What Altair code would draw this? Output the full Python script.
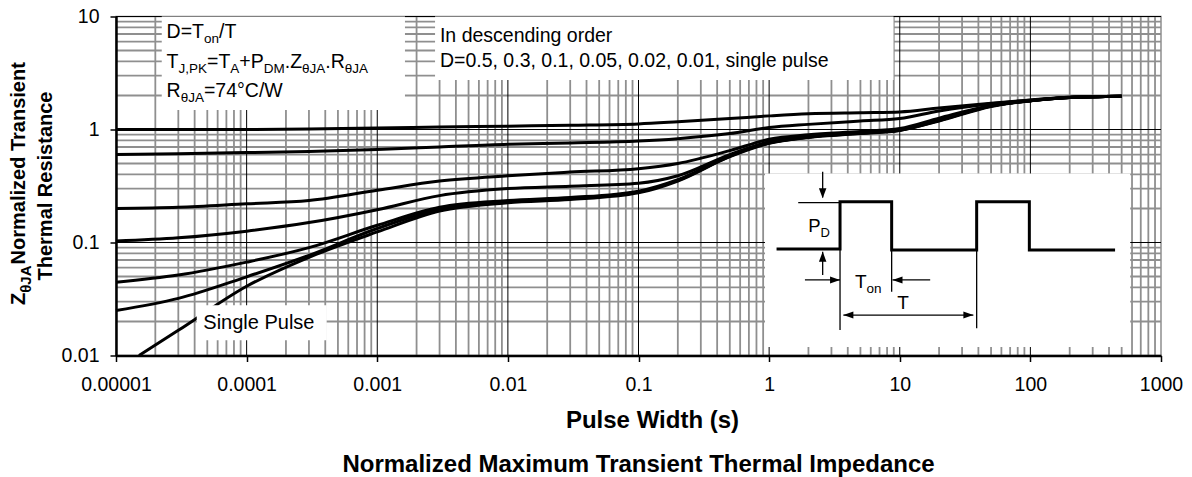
import altair as alt
import pandas as pd

FONT = "Liberation Sans"

# ---------------- data ----------------
pulse_width = [1e-5, 3e-5, 1e-4, 3e-4, 1e-3, 3e-3, 1e-2, 3e-2, 0.1, 0.2, 0.5, 1, 2, 5, 10, 20, 50, 100, 200, 500]
z_d050 = [1.00, 1.00, 1.00, 1.01, 1.03, 1.05, 1.07, 1.09, 1.12, 1.17, 1.25, 1.32, 1.38, 1.41, 1.43, 1.55, 1.71, 1.82, 1.93, 1.97]
z_d030 = [0.60, 0.61, 0.625, 0.64, 0.665, 0.70, 0.74, 0.76, 0.79, 0.83, 0.92, 1.04, 1.11, 1.19, 1.25, 1.46, 1.69, 1.82, 1.93, 1.97]
z_d010 = [0.20, 0.205, 0.22, 0.235, 0.29, 0.35, 0.39, 0.42, 0.45, 0.50, 0.65, 0.82, 0.90, 0.96, 1.02, 1.26, 1.63, 1.80, 1.92, 1.97]
z_d005 = [0.103, 0.11, 0.126, 0.15, 0.195, 0.26, 0.30, 0.315, 0.335, 0.39, 0.60, 0.78, 0.87, 0.94, 1.00, 1.22, 1.62, 1.80, 1.92, 1.97]
z_d002 = [0.0445, 0.0515, 0.067, 0.09, 0.142, 0.205, 0.235, 0.25, 0.285, 0.36, 0.585, 0.765, 0.86, 0.93, 0.99, 1.21, 1.61, 1.80, 1.92, 1.97]
z_d001 = [0.025, 0.032, 0.0497, 0.077, 0.133, 0.197, 0.23, 0.245, 0.28, 0.355, 0.58, 0.76, 0.855, 0.925, 0.985, 1.20, 1.61, 1.80, 1.92, 1.97]
single_width = [1.5e-5, 3e-5, 1e-4, 3e-4, 1e-3, 3e-3, 1e-2, 3e-2, 0.1, 0.2, 0.5, 1, 2, 5, 10, 20, 50, 100, 200, 500]
z_single = [0.0100, 0.0167, 0.041, 0.074, 0.124, 0.19, 0.225, 0.24, 0.275, 0.35, 0.575, 0.755, 0.85, 0.92, 0.98, 1.19, 1.60, 1.80, 1.92, 1.97]

x_ticks = [1e-5, 1e-4, 1e-3, 1e-2, 0.1, 1, 10, 100, 1000]
x_tick_labels = ["0.00001", "0.0001", "0.001", "0.01", "0.1", "1", "10", "100", "1000"]
y_ticks = [0.01, 0.1, 1, 10]
y_tick_labels = ["0.01", "0.1", "1", "10"]

x_major_grid = [1e-4, 1e-3, 1e-2, 0.1, 1, 10, 100]
y_major_grid = [0.1, 1, 10]
x_minor_grid = [m * 10.0 ** e for e in range(-5, 3) for m in range(2, 10)]
y_minor_grid = [m * 10.0 ** e for e in range(-2, 1) for m in range(2, 10)]

# annotation boxes (data coordinates)
boxes_back = {
    "x": [2.24e-5, 2.77e-3, 0.93],
    "x2": [1.63e-3, 8.96, 581],
    "y": [1.49, 2.74, 0.0119],
    "y2": [10, 10, 0.408],
}
single_box = {"x": [4.15e-5], "x2": [4.1e-4], "y": [0.01365], "y2": [0.0279]}

# inset pulse diagram (data coordinates)
wave_x = [1.14, 3.49, 3.49, 8.67, 8.67, 38.8, 38.8, 98.2, 98.2, 445]
wave_y = [0.0875, 0.0875, 0.2296, 0.2296, 0.0859, 0.0859, 0.2296, 0.2296, 0.0859, 0.0859]
thin_x = [3.49, 8.67, 38.8, 1.67, 2.57, 2.57, 1.88, 8.8, 3.70]
thin_x2 = [3.49, 8.67, 38.8, 3.49, 2.57, 2.57, 3.49, 17.1, 36.6]
thin_y = [0.0875, 0.0859, 0.0859, 0.225, 0.4236, 0.0515, 0.0466, 0.0466, 0.0228]
thin_y2 = [0.01683, 0.0367, 0.01742, 0.225, 0.25, 0.083, 0.0466, 0.0466, 0.0228]
arrow_x = [2.57, 2.57, 3.49, 8.8, 3.70, 36.6]
arrow_y = [0.246, 0.083, 0.0466, 0.0466, 0.0228, 0.0228]
arrow_dir = ["down", "up", "right", "left", "left", "right"]

# ---------------- helpers ----------------
W_REG = {' ': 278, ',': 278, '.': 278, '/': 278, '=': 584, '+': 584, '°': 400,
         'A': 667, 'C': 722, 'D': 722, 'J': 500, 'K': 667, 'M': 833, 'P': 667,
         'R': 722, 'T': 611, 'W': 944, 'Z': 611, 'θ': 556, 'o': 556, 'n': 556}
for d in "0123456789":
    W_REG[d] = 556
W_BOLD = {' ': 278, 'Z': 611, 'θ': 611, 'J': 556, 'A': 722, 'N': 722, 'o': 611, 'r': 389,
          'm': 889, 'a': 556, 'l': 278, 'i': 278, 'z': 500, 'e': 556, 'd': 611, 'T': 611,
          's': 556, 'n': 611, 't': 333, 'h': 611, 'R': 722, 'c': 556}


def tw(s, size, bold=False):
    tab = W_BOLD if bold else W_REG
    return sum(tab.get(c, 556) for c in s) * size / 1000.0


xs = alt.Scale(type="log", domain=[1e-5, 1000], nice=False)
ys = alt.Scale(type="log", domain=[0.01, 10], nice=False)

x_label_expr = "[" + ",".join(f"'{s}'" for s in x_tick_labels) + "][round(log(datum.value)/LN10)+5]"
y_label_expr = "[" + ",".join(f"'{s}'" for s in y_tick_labels) + "][round(log(datum.value)/LN10)+2]"

AXIS_X = alt.Axis(
    values=x_ticks, labelExpr=x_label_expr, grid=False, labelFont=FONT, labelFontSize=19.5,
    labelColor="black", labelPadding=14, labelOverlap=False, labelFlush=False,
    tickSize=6, tickColor="black", tickWidth=1.5, domainColor="black", domainWidth=2.5,
    title="Pulse Width (s)", titleFont=FONT, titleFontSize=24, titleFontWeight="bold",
    titleColor="black", titleX=536, titleY=72, titleBaseline="alphabetic", titleAlign="center",
    zindex=1)
AXIS_Y = alt.Axis(
    values=y_ticks, labelExpr=y_label_expr, grid=False, labelFont=FONT, labelFontSize=19.5,
    labelColor="black", labelPadding=11, labelOverlap=False, labelFlush=False,
    tickSize=6, tickColor="black", tickWidth=1.5, domainColor="black", domainWidth=2.5,
    title="", zindex=1)


def X(f="x"):
    return alt.X(f"{f}:Q", scale=xs, axis=AXIS_X)


def Y(f="y"):
    return alt.Y(f"{f}:Q", scale=ys, axis=AXIS_Y)


def data_text(xv, yv, text, size, dx=0, dy=0, align="left"):
    df = pd.DataFrame({"x": [xv], "y": [yv], "t": [text]})
    return alt.Chart(df).mark_text(align=align, baseline="alphabetic", dx=dx, dy=dy,
                                   fontSize=size, font=FONT, color="black").encode(
        x=X(), y=Y(), text="t:N")


def rich_text(xv, yv, segs, size, sub_size):
    layers = []
    off = 0.0
    for txt, sub in segs:
        s = sub_size if sub else size
        layers.append(data_text(xv, yv, txt, s, dx=off, dy=(5 if sub else 0)))
        off += tw(txt, s)
    return layers


def px_text(px, py, text, size, bold=False, angle=0, align="center", dx=0, dy=0):
    df = pd.DataFrame({"t": [text]})
    return alt.Chart(df).mark_text(align=align, baseline="alphabetic", fontSize=size, font=FONT,
                                   fontWeight="bold" if bold else "normal", color="black",
                                   angle=angle, dx=dx, dy=dy).encode(
        x=alt.value(px), y=alt.value(py), text="t:N")


# ---------------- layers ----------------
minor_x = alt.Chart(pd.DataFrame({"x": x_minor_grid})).mark_rule(color="#8f8f8f", strokeWidth=1.8).encode(x=X())
minor_y = alt.Chart(pd.DataFrame({"y": y_minor_grid})).mark_rule(color="#8f8f8f", strokeWidth=1.8).encode(y=Y())
major_x = alt.Chart(pd.DataFrame({"x": x_major_grid})).mark_rule(color="black", strokeWidth=1).encode(x=X())
major_y = alt.Chart(pd.DataFrame({"y": y_major_grid})).mark_rule(color="black", strokeWidth=1).encode(y=Y())

back_rects = alt.Chart(pd.DataFrame(boxes_back)).mark_rect(fill="white").encode(
    x=X(), x2="x2:Q", y=Y(), y2="y2:Q")
single_rect = alt.Chart(pd.DataFrame(single_box)).mark_rect(fill="white").encode(
    x=X(), x2="x2:Q", y=Y(), y2="y2:Q")

series = [("D=0.5", pulse_width, z_d050), ("D=0.3", pulse_width, z_d030), ("D=0.1", pulse_width, z_d010),
          ("D=0.05", pulse_width, z_d005), ("D=0.02", pulse_width, z_d002), ("D=0.01", pulse_width, z_d001),
          ("single", single_width, z_single)]
rows = []
for name, xv, yv in series:
    for a, b in zip(xv, yv):
        rows.append({"series": name, "x": a, "y": b})
curves_df = pd.DataFrame(rows)

curves = alt.Chart(curves_df).mark_line(interpolate="monotone", color="black", strokeWidth=3,
                                        strokeJoin="round").encode(
    x=X(), y=Y(), detail="series:N")

wave_df = pd.DataFrame({"x": wave_x, "y": wave_y, "o": list(range(len(wave_x)))})
wave = alt.Chart(wave_df).mark_line(color="black", strokeWidth=3).encode(x=X(), y=Y(), order="o:Q")
thin = alt.Chart(pd.DataFrame({"x": thin_x, "x2": thin_x2, "y": thin_y, "y2": thin_y2})).mark_rule(
    color="black", strokeWidth=1.3).encode(x=X(), x2="x2:Q", y=Y(), y2="y2:Q")

ARROW_PATHS = {
    "down": "M0,0L-0.75,-2L0.75,-2Z",
    "up": "M0,0L-0.75,2L0.75,2Z",
    "right": "M0,0L-2,-0.7L-2,0.7Z",
    "left": "M0,0L2,-0.7L2,0.7Z",
}
arrow_layers = []
for ax_, ay_, d in zip(arrow_x, arrow_y, arrow_dir):
    arrow_layers.append(alt.Chart(pd.DataFrame({"x": [ax_], "y": [ay_]})).mark_point(
        shape=ARROW_PATHS[d], filled=True, color="black", size=100, opacity=1, strokeWidth=0).encode(
        x=X(), y=Y()))

text_layers = []
text_layers += rich_text(2.44e-5, 6.41, [("D=T", False), ("on", True), ("/T", False)], 19.5, 13.5)
text_layers += rich_text(2.44e-5, 3.48, [("T", False), ("J,PK", True), ("=T", False), ("A", True),
                                         ("+P", False), ("DM", True), (".Z", False), ("θJA", True),
                                         (".R", False), ("θJA", True)], 19.5, 13.5)
text_layers += rich_text(2.44e-5, 1.93, [("R", False), ("θJA", True), ("=74°C/W", False)], 19.5, 13.5)
text_layers.append(data_text(3.02e-3, 5.98, "In descending order", 19.5))
text_layers.append(data_text(3.02e-3, 3.60, "D=0.5, 0.3, 0.1, 0.05, 0.02, 0.01, single pulse", 19.5))
text_layers.append(data_text(4.66e-5, 0.01706, "Single Pulse", 20))
text_layers += rich_text(1.99, 0.1247, [("P", False), ("D", True)], 18.5, 13)
text_layers += rich_text(4.54, 0.0394, [("T", False), ("on", True)], 19, 13.5)
text_layers.append(data_text(10.6, 0.02566, "T", 19, align="center"))

# y axis title (rotated, with subscript)
yt_size, yt_sub = 20, 15
seg1 = [("Z", False), ("θJA", True), (" Normalized Transient", False)]
yt_layers = []
off = 0.0
for txt, sub in seg1:
    s = yt_sub if sub else yt_size
    yt_layers.append(px_text(-91, 288.5, txt, s, bold=True, angle=270, align="left",
                             dx=off, dy=(6 if sub else 0)))
    off += tw(txt, s, bold=True)
yt_layers.append(px_text(-64.3, 169.5, "Thermal Resistance", yt_size, bold=True, angle=270, align="center"))

bottom_title = px_text(522.5, 455, "Normalized Maximum Transient Thermal Impedance", 24, bold=True)

chart = alt.layer(
    minor_x, minor_y, major_x, major_y, back_rects, curves, single_rect, wave, thin,
    *arrow_layers, *text_layers, *yt_layers, bottom_title
).properties(
    width=1045, height=339,
    autosize=alt.AutoSizeParams(type="none"),
    padding={"left": 108, "top": 8.5, "right": 23, "bottom": 121.5},
).configure_view(stroke="#8f8f8f", strokeWidth=1.5)

chart.save("out.html", embed_options={"renderer": "svg", "actions": False})
